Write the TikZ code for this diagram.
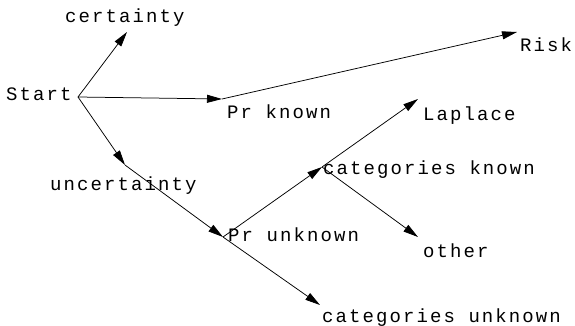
\documentclass[tikz,border=0pt]{standalone}
\usepackage{fontspec}
\setmonofont[LetterSpace=11]{Liberation Mono}
\usetikzlibrary{arrows.meta}

\begin{document}
\begin{tikzpicture}[
    x=1pt, y=-1pt,
    font=\ttfamily\fontsize{19}{21}\selectfont,
    >={Triangle[length=15pt,width=8pt]},
    branch/.style={->, line width=0.75pt, color=black},
    tag/.style={anchor=base west, inner sep=0pt, text=black},
  ]
  \useasboundingbox (0,0) rectangle (575,326);

  % -----------------------------------------------------------
  % Branch points of the tree
  % -----------------------------------------------------------
  \coordinate (start)     at (78,97);
  \coordinate (certain)   at (127,32);
  \coordinate (prknown)   at (222,99);
  \coordinate (risk)      at (517,32);
  \coordinate (uncertain) at (125,165);
  \coordinate (prunknown) at (223,237);
  \coordinate (catknown)  at (322,167);
  \coordinate (laplace)   at (418,99);
  \coordinate (other)     at (418,237);
  \coordinate (catunknown) at (320,305);

  % -----------------------------------------------------------
  % Labels
  % -----------------------------------------------------------
  \node[tag] (starttxt)      at (6,101)   {Start};
  \node[tag] (certaintxt)    at (65,23)   {certainty};
  \node[tag] (prknowntxt)    at (227,119) {Pr known};
  \node[tag] (risktxt)       at (520,52)  {Risk};
  \node[tag] (uncertaintxt)  at (50,190)  {uncertainty};
  \node[tag] (prunknowntxt)  at (228,241) {Pr unknown};
  \node[tag] (catknowntxt)   at (323,174) {categories known};
  \node[tag] (laplacetxt)    at (423,121) {Laplace};
  \node[tag] (othertxt)      at (423,257) {other};
  \node[tag] (catunknowntxt) at (322,322) {categories unknown};

  % -----------------------------------------------------------
  % Connectors
  % -----------------------------------------------------------
  \draw[branch] (start)     -- (certain);
  \draw[branch] (start)     -- (prknown);
  \draw[branch] (start)     -- (uncertain);
  \draw[branch] (prknown)   -- (risk);
  \draw[branch] (uncertain) -- (prunknown);
  \draw[branch] (prunknown) -- (catknown);
  \draw[branch] (prunknown) -- (catunknown);
  \draw[branch] (catknown)  -- (laplace);
  \draw[branch] (catknown)  -- (other);

\end{tikzpicture}
\end{document}
